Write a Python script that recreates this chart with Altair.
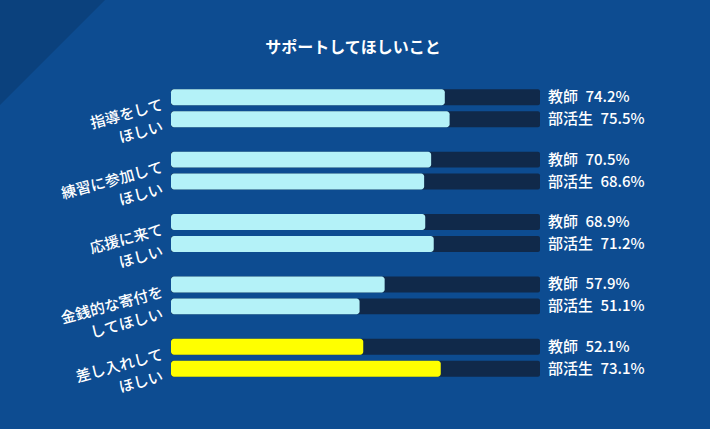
import altair as alt
import pandas as pd

# ---- data ----
categories = ["指導をしてほしい", "練習に参加してほしい", "応援に来てほしい", "金銭的な寄付をしてほしい", "差し入れしてほしい"]
label_line1 = ["指導をして", "練習に参加して", "応援に来て", "金銭的な寄付を", "差し入れして"]
label_line2 = ["ほしい", "ほしい", "ほしい", "してほしい", "ほしい"]
series_names = ["教師", "部活生"]
teacher_values = [74.2, 70.5, 68.9, 57.9, 52.1]
club_values = [75.5, 68.6, 71.2, 51.1, 73.1]
highlight_category = "差し入れしてほしい"
title_text = "サポートしてほしいこと"

rows = []
for i, cat in enumerate(categories):
    for s, vals, line in ((series_names[0], teacher_values, label_line1),
                          (series_names[1], club_values, label_line2)):
        rows.append({
            "cat": cat,
            "series": s,
            "value": vals[i],
            "full": 100,
            "label": f"{s}\u2002{vals[i]:.1f}%",
            "catline": line[i],
            "hl": cat == highlight_category,
        })
df = pd.DataFrame(rows)

BG = "#0d4c91"
CORNER = "#0b417d"
TRACK = "#10294a"
CYAN = "#b4f2f8"
YELLOW = "#ffff00"
FONT = "Noto Sans CJK JP"

y_enc = alt.Y("cat:N", sort=categories, axis=None,
              scale=alt.Scale(paddingInner=0, paddingOuter=0))
yoff_enc = alt.YOffset("series:N", sort=series_names,
                       scale=alt.Scale(paddingInner=0.2727, paddingOuter=0.557))
x_scale = alt.Scale(domain=[0, 100])

base = alt.Chart(df)

corner = alt.Chart(pd.DataFrame({"k": [0]})).mark_point(
    shape="M0,0L1,0L0,1Z", filled=True, size=44100, color=CORNER,
    opacity=1, strokeWidth=0
).encode(x=alt.value(-171), y=alt.value(-77))

title = alt.Chart(pd.DataFrame({"t": [title_text]})).mark_text(
    align="center", baseline="middle", fontSize=16, fontWeight="bold",
    color="white", font=FONT
).encode(x=alt.value(182), y=alt.value(-29), text="t:N")

track = base.mark_bar(color=TRACK, cornerRadius=2).encode(
    y=y_enc, yOffset=yoff_enc,
    x=alt.X("full:Q", scale=x_scale, axis=None, stack=None),
)

bars = base.mark_bar(cornerRadius=3).encode(
    y=y_enc, yOffset=yoff_enc,
    x=alt.X("value:Q", scale=x_scale, axis=None, stack=None),
    color=alt.condition("datum.hl", alt.value(YELLOW), alt.value(CYAN)),
)

right_labels = base.mark_text(
    align="left", baseline="middle", dx=8, fontSize=15, color="white",
    font=FONT, fontWeight=500
).encode(
    y=y_enc, yOffset=yoff_enc,
    x=alt.X("full:Q", scale=x_scale, axis=None, stack=None),
    text="label:N",
)

cat_labels = base.mark_text(
    align="right", baseline="middle", angle=345, dx=-10, dy=5,
    fontSize=15, color="white", font=FONT, fontWeight=500
).encode(
    y=y_enc, yOffset=yoff_enc,
    x=alt.datum(0, scale=x_scale),
    text="catline:N",
)

chart = alt.layer(corner, title, track, bars, right_labels, cat_labels).properties(
    width=369,
    height=312,
    autosize=alt.AutoSizeParams(type="none"),
    padding={"left": 171, "top": 77, "right": 170, "bottom": 40},
).configure(
    background=BG,
).configure_view(stroke=None)

chart.save("out.html", embed_options={"renderer": "svg", "actions": False})
